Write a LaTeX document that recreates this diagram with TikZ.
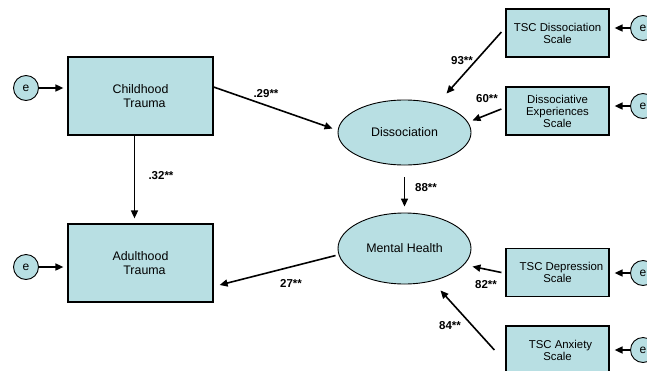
\documentclass[tikz,border=0pt]{standalone}
\usepackage{fontspec}
\setmainfont{Liberation Sans}
\usetikzlibrary{arrows.meta,calc,shapes.geometric}
\definecolor{semfill}{HTML}{B8DFE3}
\tikzset{
  obsbox/.style={draw=black,line width=1.2pt,fill=semfill,align=center,
    font=\fontsize{12.4}{14}\selectfont,inner sep=1pt},
  scalebox/.style={obsbox,minimum width=103pt,minimum height=48pt,
    font=\fontsize{11.4}{12}\selectfont},
  latent/.style={ellipse,draw=black,line width=0.9pt,fill=semfill,inner sep=0pt,
    font=\fontsize{12.4}{14}\selectfont},
  errc/.style={circle,draw=black,line width=0.9pt,fill=semfill,minimum size=25pt,
    inner sep=0pt,font=\fontsize{12}{14}\selectfont},
  arr/.style={-{Triangle[length=8pt,width=7pt]},line width=1.6pt},
  coef/.style={font=\bfseries\fontsize{11.5}{13}\selectfont,inner sep=0pt},
}
\begin{document}
\begin{tikzpicture}[x=1pt,y=-1pt]
  \useasboundingbox (0,0) rectangle (647,370);
  % left side
  \node[obsbox,minimum width=145pt,minimum height=78pt] (ct) at (140.5,96) {Childhood\\\hspace*{8pt}Trauma};
  \node[obsbox,minimum width=145pt,minimum height=78pt] (at) at (140.5,263) {Adulthood\\\hspace*{8pt}Trauma};
  \node[errc] (ect) at (26,88) {e};
  \node[errc] (eat) at (26,267) {e};
  % latent variables
  \node[latent,minimum width=133pt,minimum height=65pt] (diss) at (404.5,132.5) {Dissociation};
  \node[latent,minimum width=133pt,minimum height=71pt] (mh) at (404.5,248.5) {Mental Health};
  % indicators
  \node[scalebox] (tscd) at (557.5,33) {TSC Dissociation\\Scale};
  \node[scalebox] (des) at (557.5,111) {Dissociative\\Experiences\\Scale};
  \node[scalebox] (tscdep) at (557.5,272.5) {\hspace*{8pt}TSC Depression\\Scale};
  \node[scalebox] (tsca) at (557.5,350) {\hspace*{6pt}TSC Anxiety\\Scale};
  \node[errc] (e1) at (643,28) {e};
  \node[errc] (e2) at (643,106) {e};
  \node[errc] (e3) at (643,273) {e};
  \node[errc] (e4) at (643,350) {e};
  % error arrows
  \draw[arr] (ect.east) -- ($(ct.west |- ect)+(-4,0)$);
  \draw[arr] (eat.east) -- ($(at.west |- eat)+(-4,0)$);
  \draw[arr] (e1.west) -- ($(tscd.east |- e1)+(5,0)$);
  \draw[arr] (e2.west) -- ($(des.east |- e2)+(5,0)$);
  \draw[arr] (e3.west) -- ($(tscdep.east |- e3)+(5,0)$);
  \draw[arr] (e4.west) -- ($(tsca.east |- e4)+(5,0)$);
  % structural paths
  \draw[arr] ($(ct.east)+(0,-9)$) -- ($(diss.west)+(-5,-4)$);
  \draw[arr] ($(ct.south)+(-6,0)$) -- ($(at.north)+(-6,-5)$);
  \draw[arr] ($(diss.south)+(0,12)$) -- ($(mh.north)+(0,-6)$);
  \draw[arr] ($(mh.west)+(-2,7)$) -- ($(at.east)+(6,22)$);
  % measurement paths
  \draw[arr] ($(tscd.west)+(-4,-1)$) -- ($(diss.north)+(42,-6)$);
  \draw[arr] ($(des.west)+(-4,-2)$) -- ($(diss.east)+(1,-12)$);
  \draw[arr] ($(tscdep.west)+(-4,0)$) -- ($(mh.east)+(1,18)$);
  \draw[arr] ($(tsca.west)+(-11,0)$) -- ($(mh.south)+(36,6)$);
  % coefficients
  \node[coef] (c1) at (266,94) {.29**};
  \node[coef] (c2) at (161,176) {.32**};
  \node[coef] (c3) at (462,61) {93**};
  \node[coef] (c4) at (487,99) {60**};
  \node[coef] (c5) at (426,188) {88**};
  \node[coef] (c6) at (291,283) {27**};
  \node[coef] (c7) at (486,285) {82**};
  \node[coef] (c8) at (450,326) {84**};
\end{tikzpicture}
\end{document}
